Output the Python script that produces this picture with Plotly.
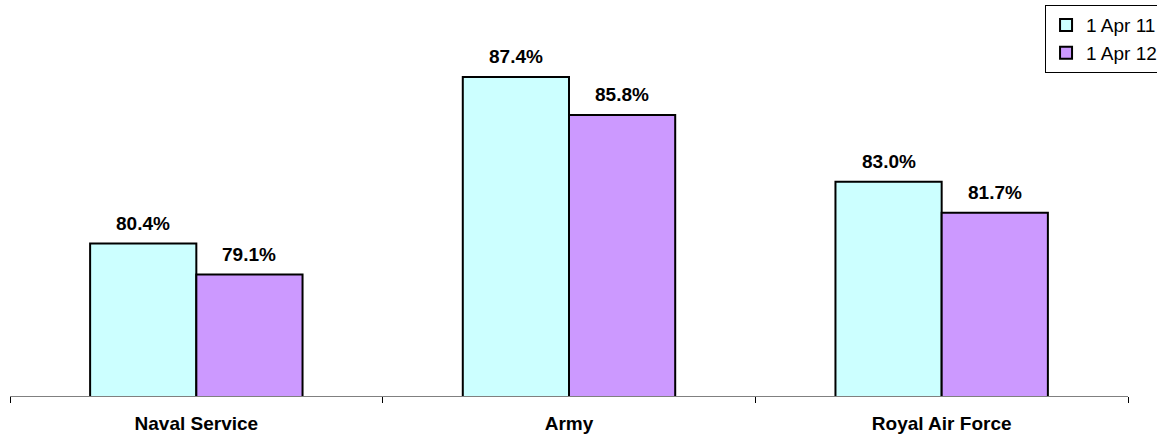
import plotly.graph_objects as go

categories = ["Naval Service", "Army", "Royal Air Force"]
series_names = ["1 Apr 11", "1 Apr 12"]
values_2011 = [80.4, 87.4, 83.0]
values_2012 = [79.1, 85.8, 81.7]
colors = ["#CCFFFF", "#CC99FF"]

FONT = "Liberation Sans, Arial"

fig = go.Figure()
for name, vals, col in zip(series_names, [values_2011, values_2012], colors):
    fig.add_trace(go.Bar(
        x=categories, y=vals, name=name,
        marker=dict(color=col, line=dict(color="black", width=2)),
    ))

# data labels above bars
offsets = [-53, 53]
for vals, dx in zip([values_2011, values_2012], offsets):
    for c, v in zip(categories, vals):
        fig.add_annotation(
            x=c, y=v, text=f"<b>{v:.1f}%</b>", showarrow=False,
            xshift=dx, yanchor="bottom", yshift=8,
            font=dict(family=FONT, size=19, color="black"),
        )

fig.update_layout(
    width=1157, height=434,
    margin=dict(l=10, r=29, t=15, b=38, autoexpand=False),
    paper_bgcolor="white", plot_bgcolor="white",
    barmode="group", bargap=0.43, bargroupgap=0,
    font=dict(family=FONT, size=16, color="black"),
    showlegend=True,
    legend=dict(
        x=0.9258, xref="paper", y=1.026, yref="paper", xanchor="left", yanchor="top",
        bordercolor="black", borderwidth=1, bgcolor="white",
        font=dict(size=19), tracegroupgap=0, itemwidth=30,
    ),
    xaxis=dict(
        showline=True, linecolor="#808080", linewidth=1,
        ticks="outside", ticklen=6, tickcolor="black", tickson="boundaries",
        tickfont=dict(size=19, family=FONT),
        tickprefix="<b>", ticksuffix="</b>",
        ticklabelstandoff=10,
        showgrid=False,
    ),
    yaxis=dict(range=[74, 90], visible=False, showgrid=False),
)

fig.write_html("out.html")
